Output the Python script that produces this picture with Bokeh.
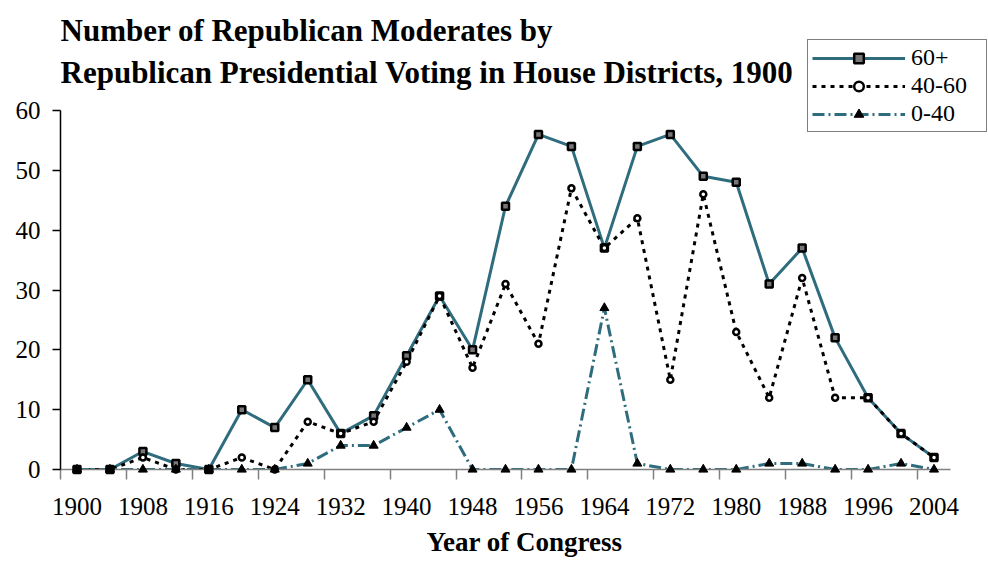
from bokeh.plotting import figure
from bokeh.models import Range1d, FixedTicker, Legend, LegendItem, Label
from bokeh.embed import file_html
from bokeh.resources import INLINE

# ---- data ----
years = [1900, 1904, 1908, 1912, 1916, 1920, 1924, 1928, 1932, 1936, 1940, 1944, 1948,
         1952, 1956, 1960, 1964, 1968, 1972, 1976, 1980, 1984, 1988, 1992, 1996, 2000, 2004]
s60plus = [0, 0, 3, 1, 0, 10, 7, 15, 6, 9, 19, 29, 20, 44, 56, 54, 37, 54, 56, 49, 48, 31, 37, 22, 12, 6, 2]
s40_60 = [0, 0, 2, 0, 0, 2, 0, 8, 6, 8, 18, 29, 17, 31, 21, 47, 37, 42, 15, 46, 23, 12, 32, 12, 12, 6, 2]
s0_40 = [0, 0, 0, 0, 0, 0, 0, 1, 4, 4, 7, 10, 0, 0, 0, 0, 27, 1, 0, 0, 0, 1, 1, 0, 0, 1, 0]
series_names = ["60+", "40-60", "0-40"]
y_ticks = [0, 10, 20, 30, 40, 50, 60]
x_tick_labels = years[::2]
title_lines = ["Number of  Republican Moderates by",
               "Republican Presidential Voting in House Districts, 1900"]
x_title = "Year of Congress"

TEAL = "#2F6C7D"
FONT = "Liberation Serif"

W, H = 988, 562
LEFT, BOTTOM = 60, 93            # frame left / bottom border (px)
X0, X1 = years[0] - 2, years[-1] + 2   # category band edges
Y0, Y1 = 0, 60
px_per_year = (950 - LEFT) / (X1 - X0)
px_per_unit = (469 - 110) / (Y1 - Y0)
x_end = X0 + (W - LEFT) / px_per_year          # frame extends to canvas right edge
y_end = Y0 + (H - BOTTOM) / px_per_unit        # frame extends to canvas top edge

p = figure(width=W, height=H, output_backend="svg", toolbar_location=None,
           x_range=Range1d(X0, x_end), y_range=Range1d(Y0, y_end),
           min_border_left=LEFT, min_border_right=0, min_border_top=0, min_border_bottom=BOTTOM)
p.outline_line_color = None
p.xgrid.grid_line_color = None
p.ygrid.grid_line_color = None

# lines + markers
r1 = p.line(years, s60plus, line_color=TEAL, line_width=3)
r2 = p.line(years, s40_60, line_color="black", line_width=3, line_dash="4 5")
r3 = p.line(years, s0_40, line_color=TEAL, line_width=3, line_dash="12 4 2 4")
m1 = p.scatter(years, s60plus, marker="square", size=7, fill_color="#777777",
               line_color="black", line_width=2.5, level="overlay")
m2 = p.scatter(years, s40_60, marker="circle", size=6, fill_color="white",
               line_color="black", line_width=2.5, level="overlay")
m3 = p.scatter(years, s0_40, marker="triangle", size=9, fill_color="black",
               line_color="black", line_width=1, level="overlay")

# x axis
minor = [X0] + [y + 2 for y in years[1::2]]
p.xaxis.ticker = FixedTicker(ticks=x_tick_labels, minor_ticks=minor)
p.xaxis.bounds = (X0, X1)
p.xaxis.axis_line_color = "#808080"
p.xaxis.axis_line_width = 1.5
p.xaxis.major_tick_line_color = None
p.xaxis.major_tick_in = 0
p.xaxis.major_tick_out = 0
p.xaxis.minor_tick_in = 0
p.xaxis.minor_tick_out = 10
p.xaxis.minor_tick_line_color = "#808080"
p.xaxis.minor_tick_line_width = 1.5
p.xaxis.major_label_standoff = 18
p.xaxis.major_label_text_font = FONT
p.xaxis.major_label_text_font_size = "25px"
p.xaxis.major_label_text_color = "black"
p.xaxis.axis_label = x_title
p.xaxis.axis_label_text_font = FONT
p.xaxis.axis_label_text_font_size = "27px"
p.xaxis.axis_label_text_font_style = "bold"
p.xaxis.axis_label_text_color = "black"
p.xaxis.axis_label_standoff = 9

# y axis
p.yaxis.ticker = FixedTicker(ticks=y_ticks)
p.yaxis.bounds = (Y0, Y1)
p.yaxis.axis_line_color = "black"
p.yaxis.axis_line_width = 1.5
p.yaxis.major_tick_in = 0
p.yaxis.major_tick_out = 8
p.yaxis.major_tick_line_color = "black"
p.yaxis.major_tick_line_width = 1.5
p.yaxis.minor_tick_line_color = None
p.yaxis.major_label_standoff = 12
p.yaxis.major_label_text_font = FONT
p.yaxis.major_label_text_font_size = "25px"
p.yaxis.major_label_text_color = "black"

# title (inside the frame, which reaches the canvas top)
frame_h = H - BOTTOM
for line, base in zip(title_lines, [30, 72]):
    p.add_layout(Label(x=0, y=frame_h - base, x_units="screen", y_units="screen", text=line,
                       text_font=FONT, text_font_size="31px", text_font_style="bold",
                       text_baseline="alphabetic", text_color="black"))

legend = Legend(items=[LegendItem(label=series_names[0], renderers=[r1, m1]),
                       LegendItem(label=series_names[1], renderers=[r2, m2]),
                       LegendItem(label=series_names[2], renderers=[r3, m3])],
                location=(807 - LEFT, frame_h - 132), margin=0, padding=4, spacing=1,
                glyph_width=93, glyph_height=24, label_height=24, label_standoff=6,
                label_width=71,
                label_text_font=FONT, label_text_font_size="24px", label_text_color="black",
                border_line_color="black", border_line_width=1,
                background_fill_color="white", background_fill_alpha=1)
p.add_layout(legend)

open("out.html", "w").write(file_html(p, INLINE))
